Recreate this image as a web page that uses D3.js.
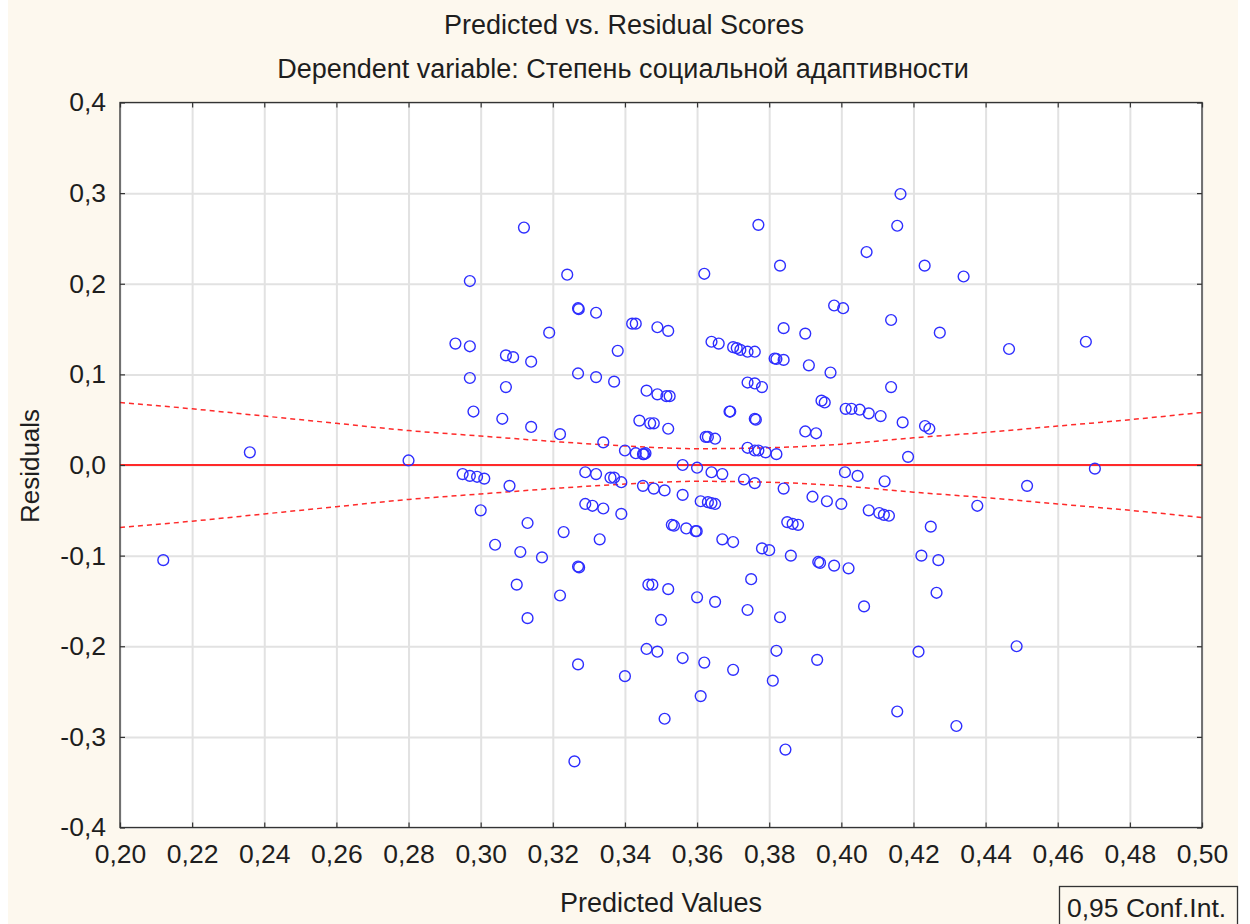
<!DOCTYPE html>
<html>
<head>
<meta charset="utf-8">
<script src="https://cdn.jsdelivr.net/npm/d3@7"></script>
<style>
body { margin: 0; background: #ffffff; }
text { font-family: "Liberation Sans", Arial, sans-serif; fill: #1e1e1e; }
</style>
</head>
<body>
<svg id="chart"></svg>
<script>
var screen = {width: 1250, height: 924};
var margins = {top: 102.5, right: 48, bottom: 96.5, left: 120};

// predicted values (x) and residuals (y)
var predicted = [0.212,0.236,0.280,0.293,0.297,0.297,0.297,0.298,0.295,0.297,0.299,0.301,0.300,0.304,0.306,0.307,0.307,0.309,0.308,0.310,
    0.311,0.312,0.314,0.314,0.313,0.313,0.317,0.319,0.322,0.322,0.323,0.324,0.327,0.327,0.3272,0.327,0.3273,0.327,0.326,0.329,
    0.329,0.331,0.332,0.332,0.332,0.333,0.334,0.334,0.337,0.338,0.336,0.337,0.339,0.339,0.340,0.340,0.342,0.343,0.344,0.343,
    0.345,0.3453,0.3457,0.346,0.349,0.3515,0.3524,0.347,0.348,0.352,0.349,0.352,0.345,0.348,0.351,0.356,0.3465,0.3476,0.352,0.350,
    0.346,0.349,0.351,0.353,0.3536,0.357,0.3596,0.3599,0.356,0.356,0.360,0.360,0.361,0.361,0.363,0.364,0.365,0.362,0.362,0.3624,
    0.3630,0.365,0.364,0.367,0.364,0.366,0.365,0.367,0.369,0.3692,0.370,0.371,0.372,0.374,0.376,0.370,0.370,0.374,0.376,0.378,
    0.374,0.376,0.377,0.379,0.382,0.373,0.376,0.375,0.374,0.376,0.3763,0.377,0.378,0.380,0.381,0.3815,0.382,0.384,0.383,0.384,
    0.383,0.382,0.384,0.3845,0.385,0.3865,0.388,0.386,0.390,0.390,0.391,0.392,0.393,0.3933,0.3936,0.3941,0.3945,0.3954,0.396,0.397,
    0.398,0.398,0.400,0.4005,0.401,0.4012,0.4028,0.402,0.4051,0.4045,0.4063,0.407,0.4076,0.4076,0.4109,0.4105,0.412,0.4118,0.4132,0.4138,
    0.4138,0.4155,0.4155,0.4164,0.417,0.4185,0.4214,0.4222,0.4231,0.4232,0.4244,0.4248,0.4264,0.4269,0.4273,0.4319,0.4339,0.4377,0.4465,0.4486,
    0.4515,0.4678,0.4703];
var residuals = [-0.105,0.014,0.005,0.134,0.131,0.203,0.096,0.059,-0.010,-0.012,-0.013,-0.015,-0.050,-0.088,0.051,0.086,0.121,0.119,-0.023,-0.132,
    -0.096,0.262,0.114,0.042,-0.064,-0.169,-0.102,0.146,0.034,-0.144,-0.074,0.210,0.101,0.173,0.172,-0.112,-0.113,-0.220,-0.327,-0.008,
    -0.043,-0.045,0.168,0.097,-0.010,-0.082,0.025,-0.048,0.092,0.126,-0.014,-0.014,-0.019,-0.054,-0.233,0.016,0.156,0.156,0.049,0.013,
    0.012,0.012,0.013,0.082,0.078,0.076,0.076,0.046,0.046,0.040,0.152,0.148,-0.023,-0.026,-0.028,-0.033,-0.132,-0.132,-0.137,-0.171,
    -0.203,-0.206,-0.280,-0.066,-0.067,-0.070,-0.073,-0.073,-0.213,0.000,-0.003,-0.146,-0.255,-0.040,-0.041,-0.042,-0.043,-0.218,0.211,0.031,
    0.031,0.029,-0.008,-0.010,0.136,0.134,-0.151,-0.082,0.059,0.059,0.130,0.129,0.127,0.125,0.125,-0.085,-0.226,0.091,0.090,0.086,
    0.019,0.016,0.016,0.014,0.012,-0.016,-0.020,-0.126,-0.160,0.051,0.050,0.265,-0.092,-0.094,-0.238,0.1175,0.117,0.116,0.220,0.151,
    -0.168,-0.205,-0.026,-0.314,-0.063,-0.065,-0.066,-0.100,0.145,0.037,0.110,-0.035,0.035,-0.215,-0.107,-0.108,0.071,0.069,-0.040,0.102,
    0.176,-0.111,-0.043,0.173,-0.008,0.062,0.062,-0.114,0.061,-0.012,-0.156,0.235,0.057,-0.050,0.054,-0.053,-0.018,-0.055,-0.056,0.160,
    0.086,0.264,-0.272,0.299,0.047,0.009,-0.206,-0.100,0.220,0.043,0.040,-0.068,-0.141,-0.105,0.146,-0.288,0.208,-0.045,0.128,-0.200,
    -0.023,0.136,-0.004];

// 0,95 confidence band, read at each x tick
var bandX     = [0.20,0.22,0.24,0.26,0.28,0.30,0.32,0.34,0.36,0.38,0.40,0.42,0.44,0.46,0.48,0.50];
var bandUpper = [0.069,0.062,0.054,0.046,0.038,0.032,0.026,0.021,0.018,0.019,0.023,0.030,0.036,0.043,0.050,0.058];
var bandLower = [-0.069,-0.062,-0.054,-0.046,-0.038,-0.032,-0.026,-0.021,-0.018,-0.019,-0.023,-0.030,-0.036,-0.043,-0.050,-0.058];

var xTicks = [0.20,0.22,0.24,0.26,0.28,0.30,0.32,0.34,0.36,0.38,0.40,0.42,0.44,0.46,0.48,0.50];
var yTicks = [-0.4,-0.3,-0.2,-0.1,0.0,0.1,0.2,0.3,0.4];

var titleText = "Predicted vs. Residual Scores";
var subtitleText = "Dependent variable: Степень социальной адаптивности";
var xLabel = "Predicted Values";
var yLabel = "Residuals";
var legendText = "0,95 Conf.Int.";

var locale = d3.formatLocale({decimal: ",", thousands: " ", grouping: [3], currency: ["", ""], minus: "-"});
var fmtX = locale.format(".2f");
var fmtY = locale.format(".1f");

var width = screen.width - margins.left - margins.right;
var height = screen.height - margins.top - margins.bottom;

var svg = d3.select("#chart")
    .attr("width", screen.width)
    .attr("height", screen.height);

// cream page background
svg.append("rect")
    .attr("x", 8)
    .attr("y", 0)
    .attr("width", 1230)
    .attr("height", screen.height)
    .attr("fill", "#fdf8ee");

var xScale = d3.scaleLinear()
    .domain([0.20, 0.50])
    .range([0, width]);

var yScale = d3.scaleLinear()
    .domain([-0.4, 0.4])
    .range([height, 0]);

var g = svg.append("g")
    .attr("transform", "translate(" + margins.left + "," + margins.top + ")");

g.append("rect")
    .attr("width", width)
    .attr("height", height)
    .attr("fill", "#ffffff");

// grid
g.append("g")
    .attr("class", "grid")
    .attr("transform", "translate(0," + height + ")")
    .call(d3.axisBottom(xScale).tickValues(xTicks).tickSize(-height).tickFormat(""));
g.append("g")
    .attr("class", "grid")
    .call(d3.axisLeft(yScale).tickValues(yTicks).tickSize(-width).tickFormat(""));
g.selectAll(".grid .domain").remove();
g.selectAll(".grid line")
    .attr("stroke", "#e2e2e2")
    .attr("stroke-width", 2);

// zero line
g.append("line")
    .attr("x1", 0)
    .attr("x2", width)
    .attr("y1", yScale(0))
    .attr("y2", yScale(0))
    .attr("stroke", "#ff2a2a")
    .attr("stroke-width", 1.8);

// confidence band
var bandLine = d3.line()
    .x(function(d, i) { return xScale(bandX[i]); })
    .y(function(d) { return yScale(d); })
    .curve(d3.curveMonotoneX);

[bandUpper, bandLower].forEach(function(band) {
    g.append("path")
        .datum(band)
        .attr("fill", "none")
        .attr("stroke", "#ff2a2a")
        .attr("stroke-width", 1.5)
        .attr("stroke-dasharray", "5,4")
        .attr("d", bandLine);
});

// points
g.selectAll("circle")
    .data(predicted)
    .enter()
    .append("circle")
    .attr("cx", function(d) { return xScale(d); })
    .attr("cy", function(d, i) { return yScale(residuals[i]); })
    .attr("r", 5.4)
    .attr("fill", "none")
    .attr("stroke", "#2e2eff")
    .attr("stroke-width", 1.4);

// frame
g.append("rect")
    .attr("width", width)
    .attr("height", height)
    .attr("fill", "none")
    .attr("stroke", "#333333")
    .attr("stroke-width", 1.3);

// axes, ticks pointing inside
var xAxis = d3.axisBottom(xScale).tickValues(xTicks).tickSizeInner(-5).tickSizeOuter(0).tickPadding(17).tickFormat(fmtX);
var yAxis = d3.axisLeft(yScale).tickValues(yTicks).tickSizeInner(-5).tickSizeOuter(0).tickPadding(14).tickFormat(fmtY);

g.append("g")
    .attr("class", "axis")
    .attr("transform", "translate(0," + height + ")")
    .call(xAxis);
g.append("g")
    .attr("class", "axis")
    .call(yAxis);
g.append("g")
    .attr("class", "axis")
    .call(d3.axisTop(xScale).tickValues(xTicks).tickSizeInner(-5).tickSizeOuter(0).tickFormat(""));
g.append("g")
    .attr("class", "axis")
    .attr("transform", "translate(" + width + ",0)")
    .call(d3.axisRight(yScale).tickValues(yTicks).tickSizeInner(-5).tickSizeOuter(0).tickFormat(""));

g.selectAll(".axis .domain").remove();
g.selectAll(".axis line").attr("stroke", "#333333").attr("stroke-width", 1.2);
g.selectAll(".axis text")
    .style("font-size", "26.5px")
    .style("font-family", "'Liberation Sans', Arial, sans-serif")
    .attr("fill", "#1e1e1e");

// titles
svg.append("text")
    .attr("x", 624)
    .attr("y", 34)
    .attr("text-anchor", "middle")
    .style("font-size", "27px")
    .text(titleText);
svg.append("text")
    .attr("x", 623)
    .attr("y", 78)
    .attr("text-anchor", "middle")
    .style("font-size", "27px")
    .text(subtitleText);
svg.append("text")
    .attr("x", 661)
    .attr("y", 912)
    .attr("text-anchor", "middle")
    .style("font-size", "27px")
    .text(xLabel);
svg.append("text")
    .attr("transform", "translate(39,466) rotate(-90)")
    .attr("text-anchor", "middle")
    .style("font-size", "26px")
    .text(yLabel);

// legend box
svg.append("rect")
    .attr("x", 1059.5)
    .attr("y", 886.5)
    .attr("width", 178)
    .attr("height", 45)
    .attr("fill", "#fdf8ee")
    .attr("stroke", "#333333")
    .attr("stroke-width", 1.3);
svg.append("text")
    .attr("x", 1067)
    .attr("y", 917)
    .style("font-size", "26.5px")
    .text(legendText);
</script>
</body>
</html>
